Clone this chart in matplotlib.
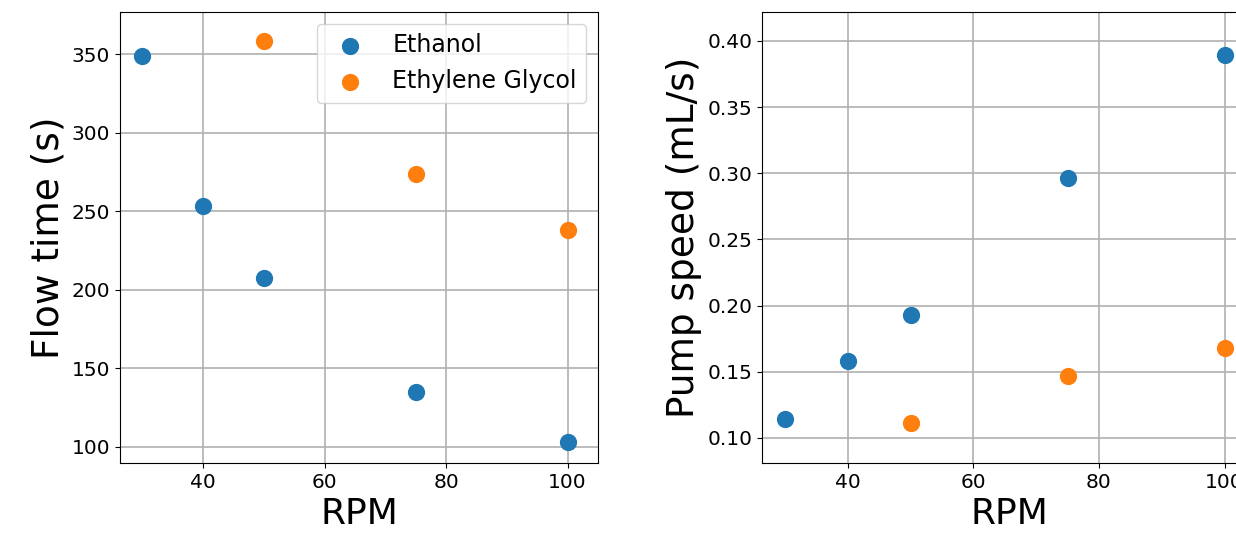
import matplotlib
matplotlib.use("Agg")
import matplotlib.pyplot as plt
from matplotlib.ticker import MultipleLocator

# Data
rpm_ethanol = [30, 40, 50, 75, 100]
flow_ethanol = [348.9, 253.1, 207.3, 135.0, 102.9]
pump_ethanol = [0.1144, 0.1580, 0.1930, 0.2965, 0.3895]

rpm_glycol = [50, 75, 100]
flow_glycol = [358.8, 273.7, 238.3]
pump_glycol = [0.1116, 0.1465, 0.1680]

labels = ["Ethanol", "Ethylene Glycol"]

W, H = 1236, 545
fig = plt.figure(figsize=(W / 100, H / 100), dpi=100)


def px_axes(left, right, top, bottom):
    return fig.add_axes([left / W, 1 - bottom / H, (right - left) / W, (bottom - top) / H])


ax1 = px_axes(120, 598, 12, 463)
ax2 = px_axes(762, 1256, 12, 463)

marker_size = 130

# Left panel: flow time
ax1.scatter(rpm_ethanol, flow_ethanol, s=marker_size, label=labels[0], zorder=3)
ax1.scatter(rpm_glycol, flow_glycol, s=marker_size, label=labels[1], zorder=3)
ax1.set_xlim(26.35, 105)
ax1.set_ylim(89.7, 377)
ax1.set_xlabel("RPM", fontsize=26)
ax1.set_ylabel("Flow time (s)", fontsize=27)
ax1.legend(fontsize=17, loc="upper right")

# Right panel: pump speed
ax2.scatter(rpm_ethanol, pump_ethanol, s=marker_size, zorder=3)
ax2.scatter(rpm_glycol, pump_glycol, s=marker_size, zorder=3)
ax2.set_xlim(26.35, 105)
ax2.set_ylim(0.0811, 0.4219)
ax2.set_xlabel("RPM", fontsize=26)
ax2.set_ylabel("Pump speed (mL/s)", fontsize=27)

for ax in (ax1, ax2):
    ax.xaxis.set_major_locator(MultipleLocator(20))
    ax.grid(True, color="#b0b0b0", linewidth=1.2)
    ax.set_axisbelow(True)
    ax.tick_params(labelsize=14.5)

fig.savefig("out.png", dpi=100)
